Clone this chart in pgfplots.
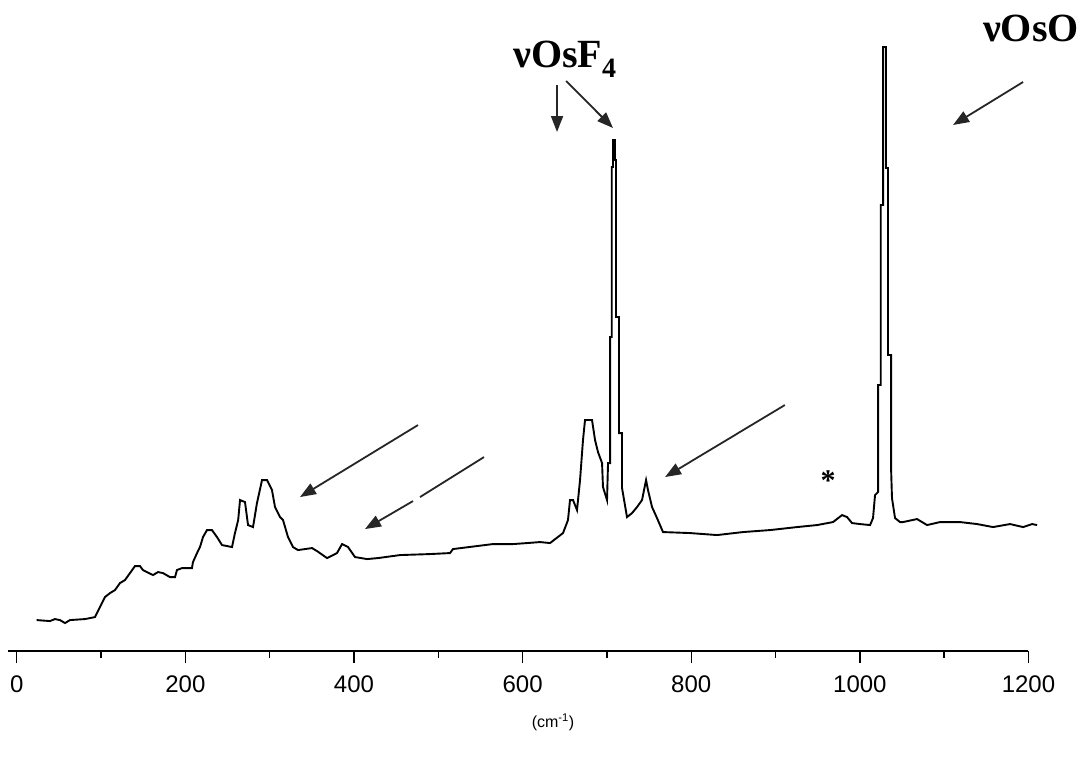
\documentclass[border=0pt]{standalone}
\usepackage{fontspec}
\setmainfont{Liberation Sans}
\newfontfamily\serifb{Liberation Serif}
\usepackage{pgfplots}
\pgfplotsset{compat=1.18}
\usetikzlibrary{arrows.meta}

\begin{document}
\begin{tikzpicture}
\begin{axis}[
  scale only axis, width=1020pt, height=651pt,
  xmin=-10, xmax=1200, ymin=0, ymax=651,
  axis x line=bottom, axis y line=none,
  x axis line style={-, line width=1.3pt},
  xtick={0,200,...,1200}, minor xtick={100,300,...,1100},
  tick align=outside, major tick length=12pt, minor tick length=7pt,
  every tick/.style={black, line width=1.4pt},
  /pgf/number format/assume math mode=true,
  /pgf/number format/1000 sep={},
  xticklabel style={font=\fontsize{24}{24}\selectfont, yshift=-9pt},
  xlabel={(cm\textsuperscript{-1})},
  xlabel style={at={(axis cs:636,-71)}, anchor=center, font=\fontsize{16}{16}\selectfont},
  clip=false,
]
\addplot[black, line width=1.9pt, sharp plot, mark=none] coordinates {
(23.6,31)(39.4,30)(45.3,32)(51.2,31)(57.2,28)(63.1,31)(80.9,32)(92.8,34)
(98.7,44)(104.6,54)(110.6,58)(116.5,61)(122.4,68)(128.3,71)(134.3,78)(140.2,85)
(146.1,85)(149.7,81)(161.6,76)(167.5,79)(173.4,78)(181.7,74)(187.7,74)(190.0,81)
(196.0,83)(207.8,83)(209.0,89)(213.8,98)(217.3,104)(220.9,114)(225.6,121)(231.5,121)
(237.5,114)(243.4,106)(255.3,104)(258.8,118)(262.6,131)(264.8,151)(270.7,149)(274.3,126)
(280.2,124)(284.9,148)(290.9,171)(296.8,171)(302.7,161)(306.3,144)(312.2,134)(315.8,131)
(321.7,114)(327.6,104)(333.6,101)(350.2,103)(356.1,100)(368.0,93)(379.8,98)(385.8,107)
(392.9,104)(401.2,94)(415.4,92)(428.5,93)(454.6,96)(490.2,97)(513.9,98)(517.4,102)
(564.9,107)(588.6,107)(605.2,108)(620.6,109)(632.5,108)(647.9,118)(653.8,131)(656.2,151)
(659.8,151)(664.5,141)(668.1,171)(671.6,211)(674.0,231)(682.3,231)(685.9,211)(689.4,199)
(694.2,188)(695.3,164)(700.1,151)(701.3,188)(703.7,188)(703.7,314)(705.7,314)(705.7,484)
(707.2,484)(707.2,511)(709.6,511)(709.6,491)(710.8,491)(710.8,334)(714.3,334)(714.3,218)
(717.9,218)(717.9,163)(723.8,134)(729.8,138)(735.7,144)(741.6,151)(746.4,171)(748.7,161)
(753.5,144)(759.4,133)(766.5,119)(798.5,118)(830.6,116)(861.4,119)(893.5,121)(925.5,124)
(949.2,126)(968.2,129)(978.9,136)(984.8,134)(990.7,128)(1000.2,127)(1012.1,126)(1015.6,133)
(1018.0,156)(1021.6,159)(1021.6,266)(1024.8,266)(1024.8,446)(1027.5,446)(1027.5,604)(1031.0,604)
(1031.0,483)(1033.4,483)(1033.4,296)(1037.0,296)(1037.0,183)(1038.1,153)(1041.7,133)(1047.6,129)
(1051.2,129)(1067.8,132)(1079.7,126)(1095.1,129)(1118.8,129)(1139.0,127)(1158.0,124)(1178.1,127)
(1193.6,124)(1204.3,127)(1210.2,126)
};
% annotations
\node[anchor=base west, inner sep=0pt] at (axis cs:588.6,583)
  {\serifb\bfseries\fontsize{40}{40}\selectfont νOsF\textsubscript{4}};
\node[anchor=base east, inner sep=0pt] at (axis cs:1259.9,609)
  {\serifb\bfseries\fontsize{40}{40}\selectfont νOsO};
\tikzset{arr/.style={black!85, line width=1.8pt, -{Triangle[length=16pt,width=12pt]}}}
\draw[arr] (axis cs:640.8,566) -- (axis cs:640.8,519);
\draw[arr] (axis cs:651.5,570) -- (axis cs:707.2,523);
\draw[arr] (axis cs:1193.6,569) -- (axis cs:1110.5,526);
\draw[arr] (axis cs:475.9,226) -- (axis cs:335.9,154);
\draw[black!85, line width=1.8pt] (axis cs:554.2,194) -- (axis cs:478.3,154);
\draw[arr] (axis cs:470.0,150) -- (axis cs:413.0,122);
\draw[arr] (axis cs:911.0,246) -- (axis cs:768.9,174);
\node[inner sep=0pt, yshift=-3pt] at (axis cs:962.2,173)
  {\serifb\bfseries\fontsize{30}{30}\selectfont *};
\coordinate (bbSW) at (axis cs:-19.9,-108);
\coordinate (bbNE) at (axis cs:1262.3,651);
\end{axis}
\pgfresetboundingbox
\useasboundingbox (bbSW) rectangle (bbNE);
\end{tikzpicture}
\end{document}
